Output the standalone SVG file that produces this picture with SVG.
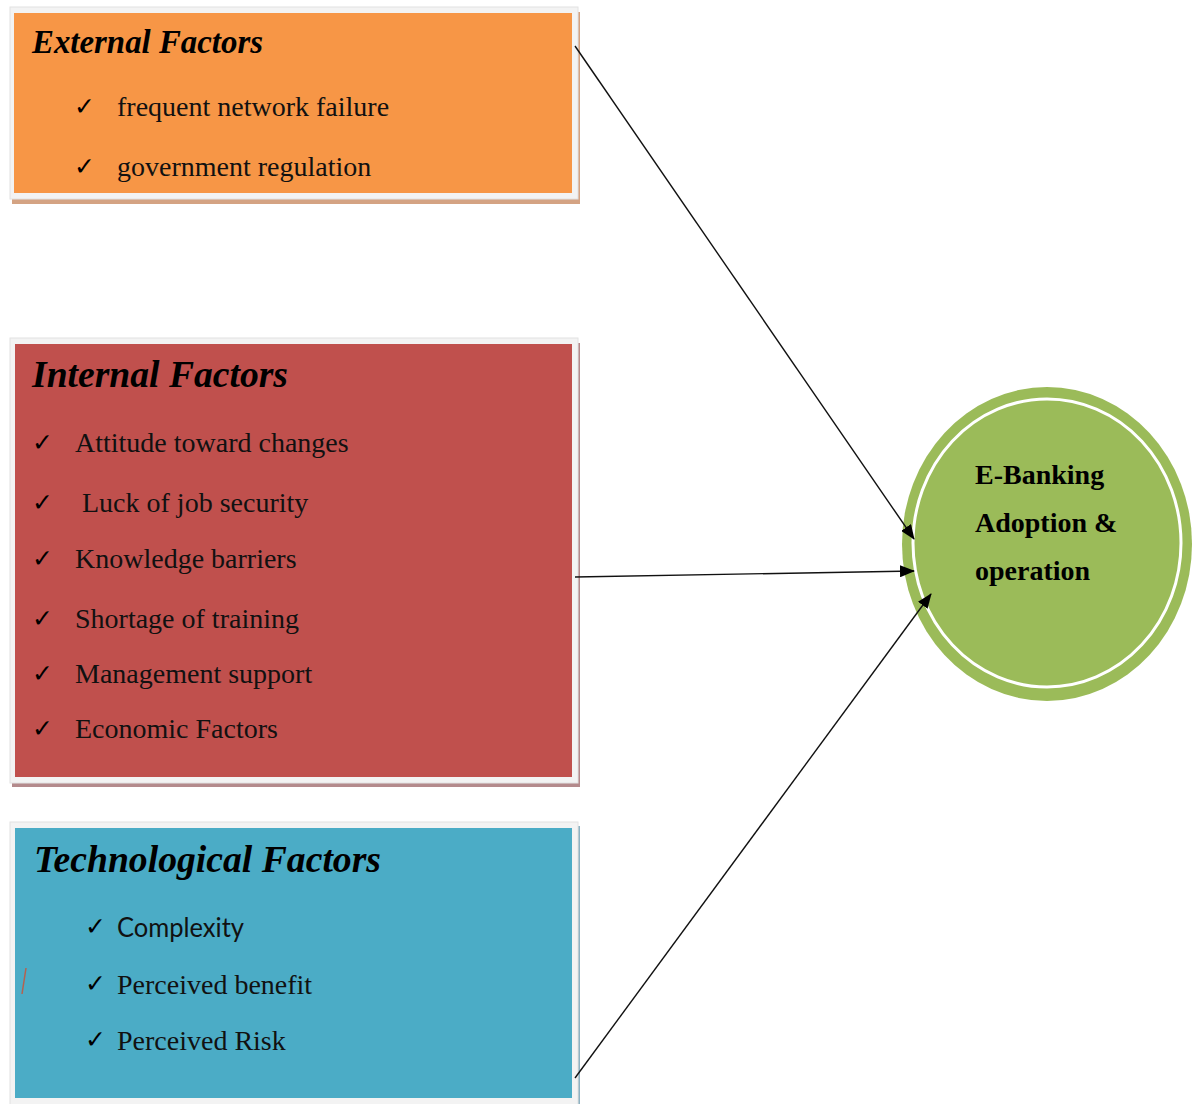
<svg xmlns="http://www.w3.org/2000/svg" width="1192" height="1104" viewBox="0 0 1192 1104">
  <defs>
    <marker id="arrow" markerUnits="userSpaceOnUse" markerWidth="16" markerHeight="12" refX="14" refY="6" orient="auto">
      <path d="M0,0 L15,6 L0,12 Z" fill="#000"/>
    </marker>
    <style>
      .frame { fill: #f3f3f3; stroke: #e2e2e2; stroke-width: 1; }
      .title { font-family: "Liberation Serif", "Times New Roman", serif; font-weight: bold; font-style: italic; fill: #000; }
      .item { font-family: "Liberation Serif", "Times New Roman", serif; font-size: 28px; fill: #111; }
      .item-sans { font-family: Lato, "Open Sans", "Liberation Sans", sans-serif; font-size: 27px; fill: #111; }
      .tick { font-family: "DejaVu Sans", sans-serif; font-size: 25px; fill: #000; }
      .center-label { font-family: "Liberation Serif", "Times New Roman", serif; font-weight: bold; font-size: 28px; fill: #000; }
      .link { stroke: #111; stroke-width: 1.4; fill: none; marker-end: url(#arrow); }
    </style>
  </defs>

  <rect x="0" y="0" width="1192" height="1104" fill="#fff"/>

  <!-- External factors box -->
  <g id="external-factors">
    <rect x="12" y="12" width="568" height="192" fill="#d4a383"/>
    <rect class="frame" x="10" y="7" width="568" height="192"/>
    <rect x="14" y="13" width="558" height="180" fill="#f79646"/>
    <text class="title" x="32" y="53" font-size="34" textLength="231" lengthAdjust="spacingAndGlyphs">External Factors</text>
    <text class="tick" x="74" y="115">✓</text>
    <text class="item" x="117" y="116">frequent network failure</text>
    <text class="tick" x="74" y="175">✓</text>
    <text class="item" x="117" y="176">government regulation</text>
  </g>

  <!-- Internal factors box -->
  <g id="internal-factors">
    <rect x="12" y="343" width="568" height="444" fill="#b48a8c"/>
    <rect class="frame" x="10" y="338" width="568" height="445"/>
    <rect x="15" y="344" width="557" height="433" fill="#c0504d"/>
    <text class="title" x="32" y="387" font-size="37" textLength="256" lengthAdjust="spacingAndGlyphs">Internal Factors</text>
    <text class="tick" x="32" y="451">✓</text>
    <text class="item" x="75" y="452">Attitude toward changes</text>
    <text class="tick" x="32" y="511">✓</text>
    <text class="item" x="82" y="512">Luck of job security</text>
    <text class="tick" x="32" y="567">✓</text>
    <text class="item" x="75" y="568">Knowledge barriers</text>
    <text class="tick" x="32" y="627">✓</text>
    <text class="item" x="75" y="628">Shortage of training</text>
    <text class="tick" x="32" y="682">✓</text>
    <text class="item" x="75" y="683">Management support</text>
    <text class="tick" x="32" y="737">✓</text>
    <text class="item" x="75" y="738">Economic Factors</text>
  </g>

  <!-- Technological factors box -->
  <g id="technological-factors">
    <rect x="12" y="826" width="568" height="282" fill="#8fb2c2"/>
    <rect class="frame" x="10" y="822" width="568" height="286"/>
    <rect x="15" y="828" width="557" height="270" fill="#4bacc6"/>
    <text class="title" x="34" y="872" font-size="37" textLength="347" lengthAdjust="spacingAndGlyphs">Technological Factors</text>
    <text class="tick" x="85" y="935">✓</text>
    <text class="item-sans" x="117" y="937" textLength="127" lengthAdjust="spacingAndGlyphs">Complexity</text>
    <text class="tick" x="85" y="992">✓</text>
    <text class="item" x="117" y="994">Perceived benefit</text>
    <text class="tick" x="85" y="1048">✓</text>
    <text class="item" x="117" y="1050">Perceived Risk</text>
    <line x1="26" y1="968" x2="22" y2="994" stroke="#b5614f" stroke-width="1.5"/>
  </g>

  <!-- Outcome ellipse -->
  <g id="e-banking">
    <ellipse cx="1047" cy="544" rx="145" ry="157" fill="#9bbb59"/>
    <ellipse cx="1047" cy="543" rx="134" ry="144" fill="none" stroke="#fff" stroke-width="3"/>
    <text class="center-label" x="975" y="484">E-Banking</text>
    <text class="center-label" x="975" y="532">Adoption &amp;</text>
    <text class="center-label" x="975" y="580">operation</text>
  </g>

  <!-- Connectors -->
  <g id="connectors">
    <line class="link" x1="575" y1="46" x2="914" y2="539"/>
    <line class="link" x1="575" y1="577" x2="914" y2="571"/>
    <line class="link" x1="575" y1="1078" x2="931" y2="594"/>
  </g>
</svg>
